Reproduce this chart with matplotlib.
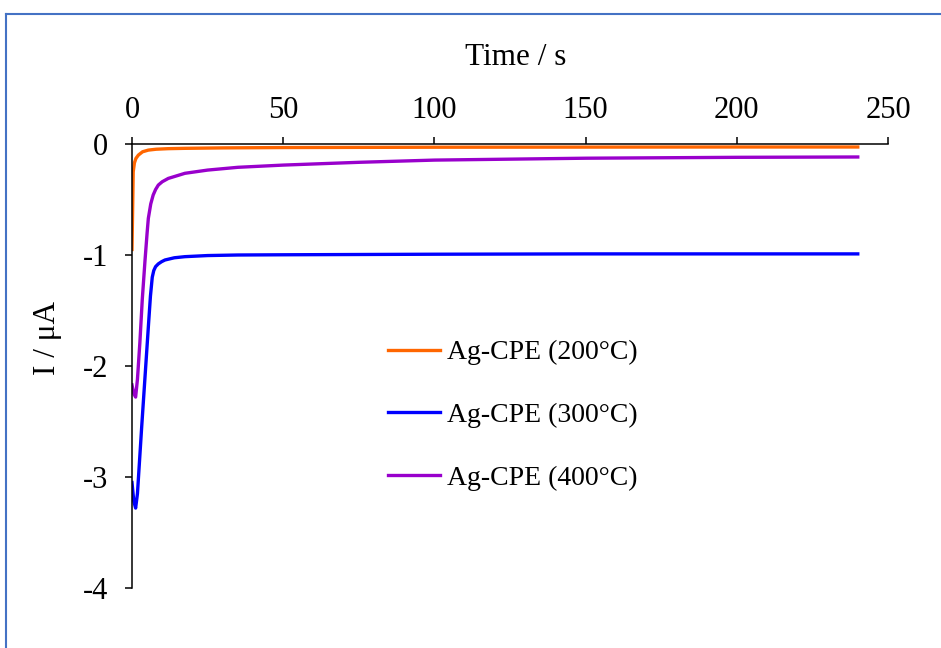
import matplotlib
matplotlib.use("Agg")
import matplotlib.pyplot as plt
from matplotlib.lines import Line2D

# chronoamperometry
t_200 = [0, 0.2, 0.4, 0.8, 1.3, 2.1, 3.5, 5.4, 8, 12, 17.5, 30, 50, 100, 150, 200, 240]
i_200 = [-0.95, -0.6, -0.25, -0.17, -0.13, -0.10, -0.07, -0.055, -0.047, -0.042,
         -0.039, -0.035, -0.032, -0.029, -0.028, -0.027, -0.027]

t_300 = [0, 0.6, 1.2, 1.8, 2.5, 3.2, 4.3, 5.4, 6.1, 6.7, 7.2, 7.8, 8.7, 9.8, 10.9,
         14, 17.5, 25, 35, 50, 100, 150, 200, 240]
i_300 = [-3.05, -3.22, -3.28, -3.15, -2.85, -2.55, -2.1, -1.65, -1.37, -1.2, -1.14,
         -1.105, -1.08, -1.06, -1.045, -1.025, -1.015, -1.005, -1.0, -0.998, -0.993,
         -0.99, -0.99, -0.99]

t_400 = [0, 0.6, 1.2, 1.8, 2.6, 3.4, 4.3, 5.0, 5.4, 6.2, 7.0, 7.8, 8.7, 10, 12, 17.5,
         25, 35, 50, 75, 100, 150, 200, 240]
i_400 = [-2.17, -2.25, -2.28, -2.12, -1.79, -1.40, -1.05, -0.80, -0.67, -0.54, -0.46,
         -0.41, -0.37, -0.34, -0.31, -0.264, -0.235, -0.21, -0.19, -0.165, -0.145,
         -0.128, -0.12, -0.117]

labels = ["Ag-CPE (200°C)", "Ag-CPE (300°C)", "Ag-CPE (400°C)"]
colors = ["#FF6600", "#0000FF", "#9900CC"]
x_ticks = [0, 50, 100, 150, 200, 250]
y_ticks = [0, -1, -2, -3, -4]

plt.rcParams["font.family"] = ["Liberation Serif", "DejaVu Serif"]
plt.rcParams["axes.unicode_minus"] = False

fig = plt.figure(figsize=(9.41, 6.48), dpi=100)
ax = fig.add_axes([132 / 941, 1 - 588 / 648, 756 / 941, 444 / 648])

series = [(t_200, i_200), (t_300, i_300), (t_400, i_400)]
for (t, i), lab, c in zip(series, labels, colors):
    ax.plot(t, i, color=c, lw=2.4, label=lab, solid_joinstyle="round")

ax.set_xlim(0, 250)
ax.set_ylim(-4, 0)
ax.set_xticks(x_ticks)
ax.set_yticks(y_ticks)
ax.set_yticklabels([str(v) for v in y_ticks])

ax.xaxis.tick_top()
ax.spines["bottom"].set_visible(False)
ax.spines["right"].set_visible(False)
for s in ("top", "left"):
    ax.spines[s].set_linewidth(1.1)
ax.tick_params(axis="both", direction="out", length=5, width=1.1, labelsize=22)
ax.tick_params(axis="x", pad=9)
ax.tick_params(axis="y", pad=12)

ax.set_xlabel("Time / s", fontsize=22.5)
ax.xaxis.set_label_position("top")
ax.xaxis.set_label_coords(0.507, 1.177)
ax.set_ylabel("I / μA", fontsize=22.5)
ax.yaxis.set_label_coords(-0.093, 0.563)

ax.legend(loc="upper left", bbox_to_anchor=(0.3386, 0.559), frameon=False,
          fontsize=20, borderpad=0, borderaxespad=0, handlelength=1.87,
          handletextpad=0.25, labelspacing=1.34)

# blue frame of the original chart area (only top/left visible)
fx, fy = 5.5 / 941, 1 - 13.5 / 648
fig.add_artist(Line2D([fx, fx], [0, fy], color="#4472C4", lw=1.5))
fig.add_artist(Line2D([fx, 1], [fy, fy], color="#4472C4", lw=1.5))

fig.savefig("out.png", dpi=100)
